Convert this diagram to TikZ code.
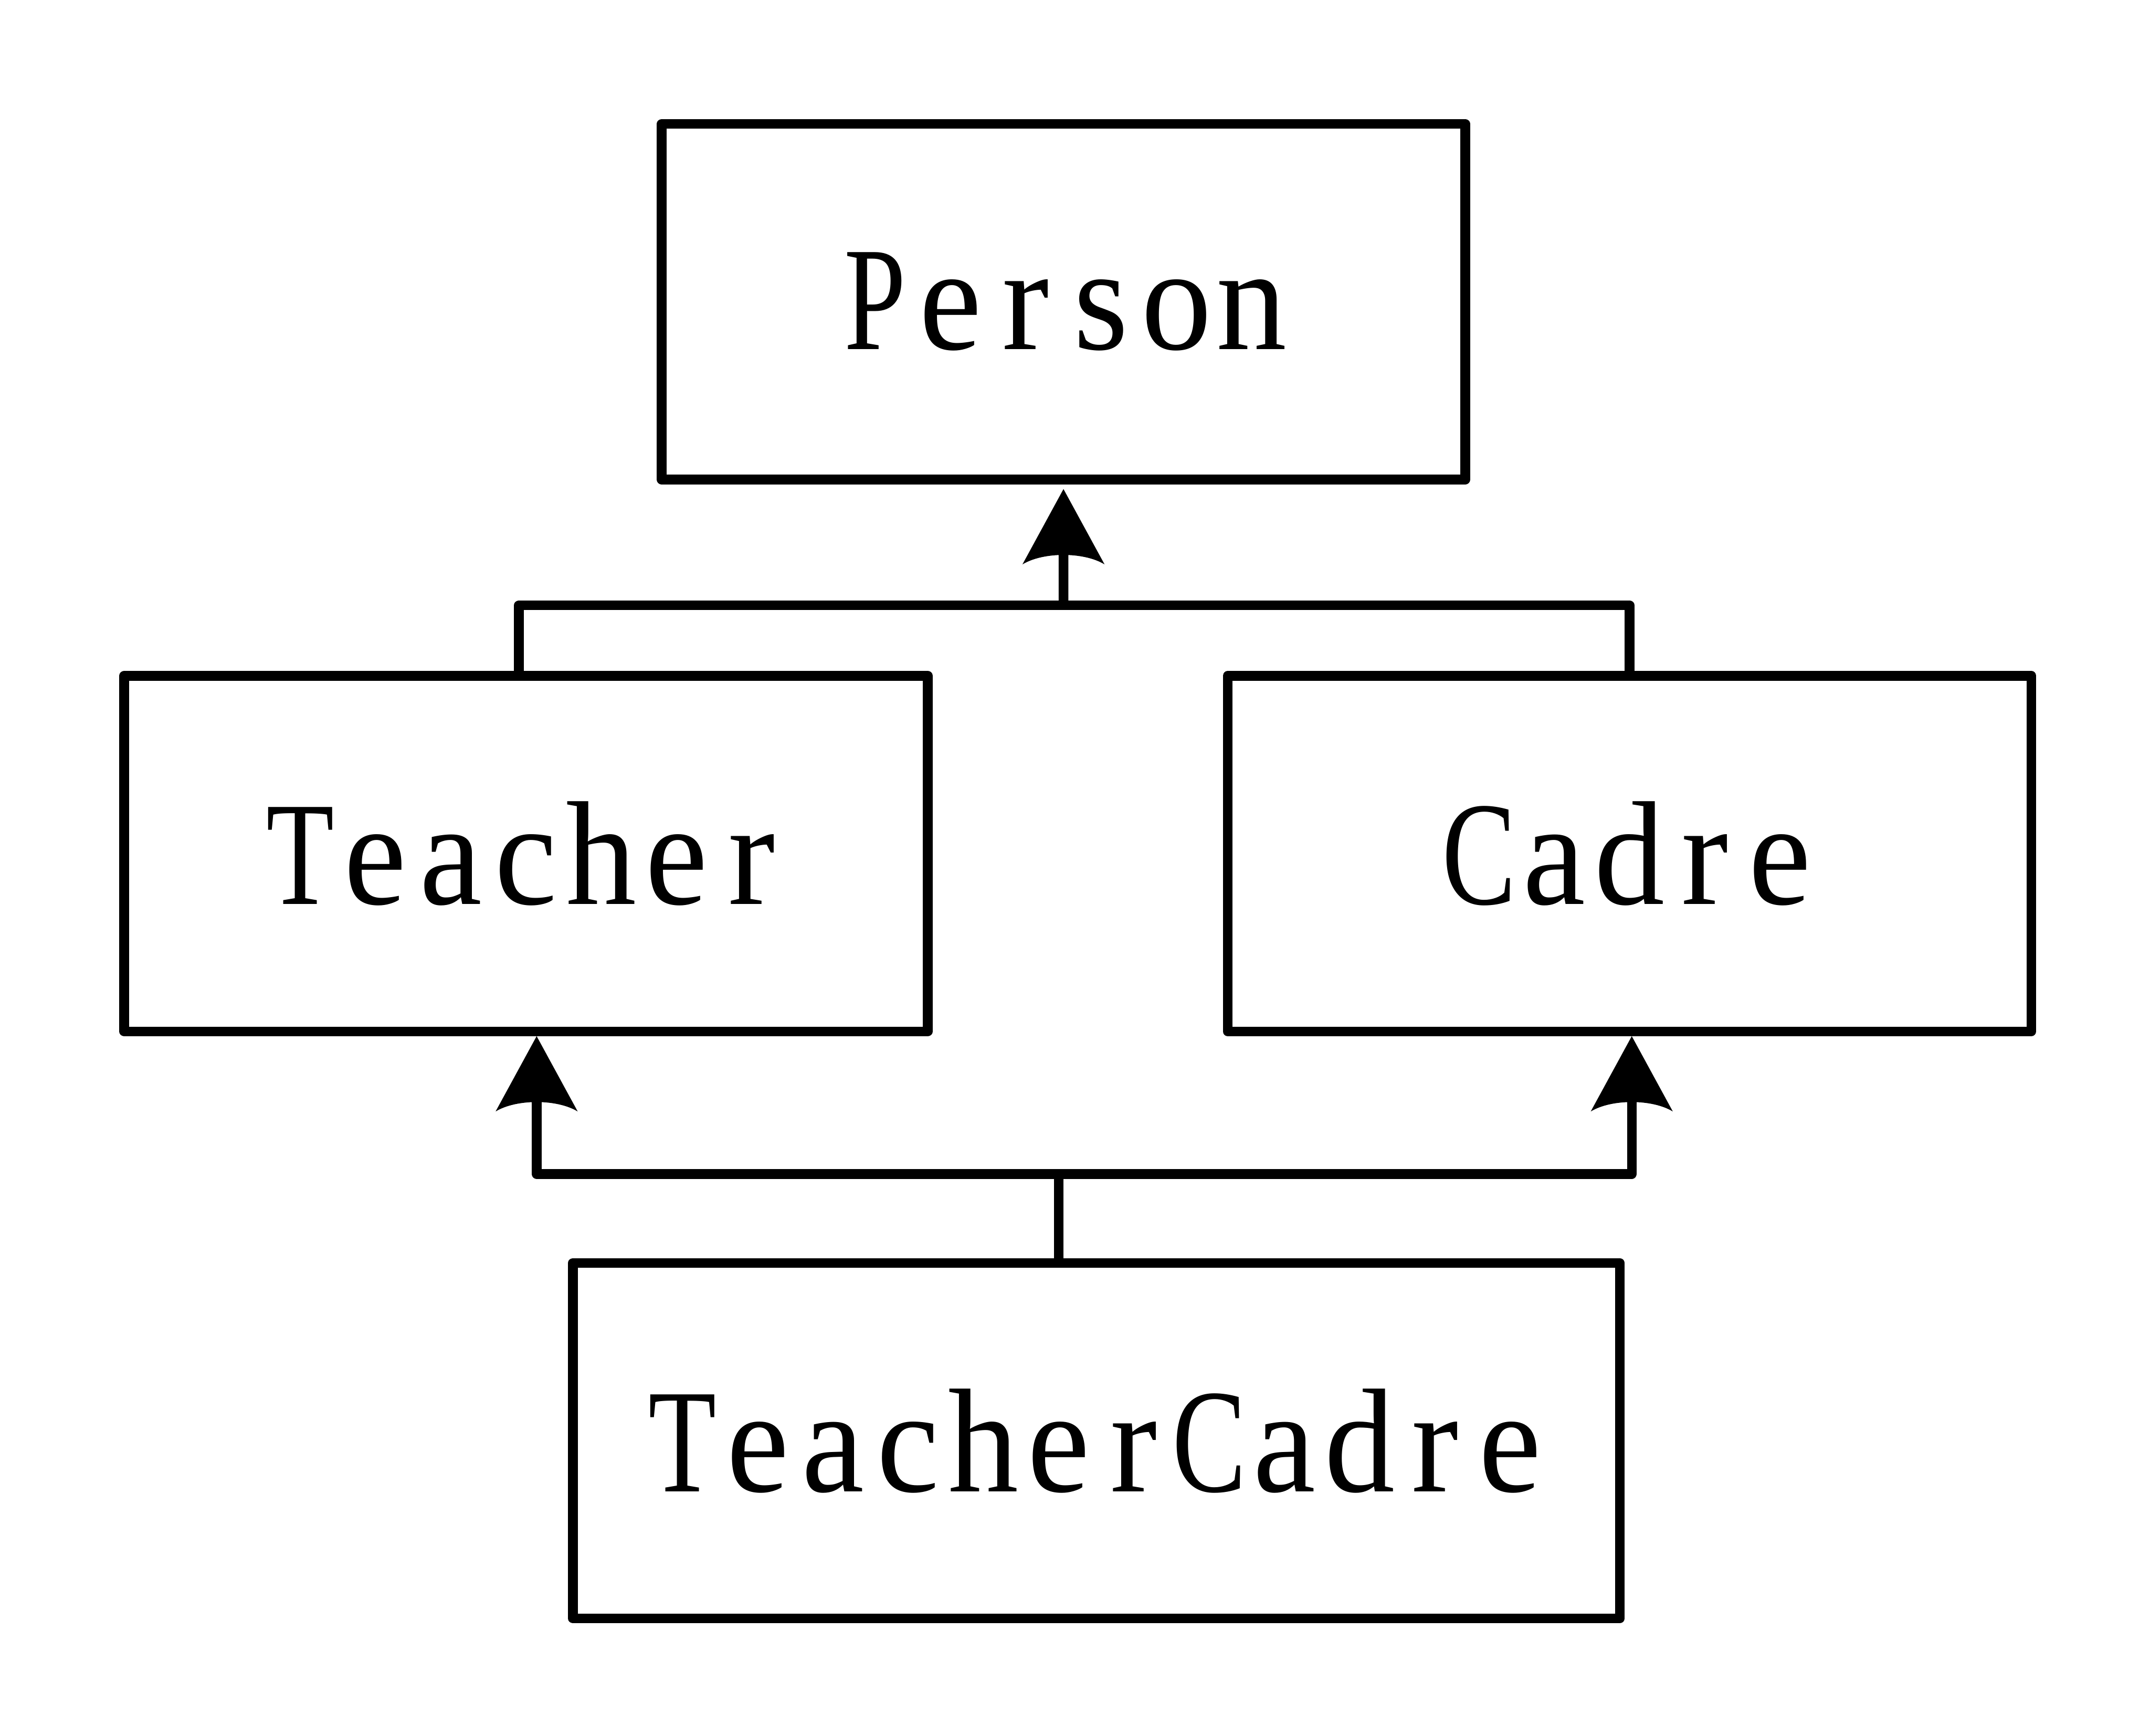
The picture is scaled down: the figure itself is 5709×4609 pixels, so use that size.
\documentclass[tikz,border=0pt]{standalone}
\usepackage{fontspec}
\setmainfont{Liberation Serif}
\usepackage{graphicx}
\usetikzlibrary{arrows.meta}
\pgfdeclarearrow{
  name = CurvedBack,
  setup code = {
    \pgfarrowssettipend{0pt}
    \pgfarrowssetbackend{-1cm}
    \pgfarrowssetlineend{-0.8cm}
    \pgfarrowshullpoint{0pt}{0pt}
    \pgfarrowshullpoint{-1cm}{0.545cm}
    \pgfarrowshullpoint{-1cm}{-0.545cm}
  },
  drawing code = {
    \pgfpathmoveto{\pgfpointorigin}
    \pgfpathlineto{\pgfpoint{-1cm}{0.545cm}}
    \pgfpathcurveto{\pgfpoint{-0.833cm}{0.27cm}}{\pgfpoint{-0.833cm}{-0.27cm}}{\pgfpoint{-1cm}{-0.545cm}}
    \pgfpathclose
    \pgfusepathqfill
  }
}
\newcommand\monochar[1]{\makebox[1cm]{\ifnum\uccode`#1=`#1\relax\scalebox{0.75}[1]{#1}\else\scalebox{0.95}[1]{#1}\fi}}
\def\monoaux#1{\ifx\relax#1\else\monochar{#1}\expandafter\monoaux\fi}
\newcommand\monotxt[1]{\monoaux#1\relax}
\begin{document}
\begin{tikzpicture}[x=0.005cm,y=-0.005cm,
  box/.style={draw, rectangle, line width=3.65pt, line join=round, minimum height=4.725cm, inner sep=0pt, font=\fontsize{56}{60}\selectfont},
  link/.style={line width=3.65pt, line join=round},
  inherit/.style={link, -CurvedBack}]
\useasboundingbox (0,0) rectangle (5709,4609);
\node[box, minimum width=10.679cm] (person) at (2823.9,801.3) {\monotxt{Person}};
\node[box, minimum width=10.679cm] (teacher) at (1396.7,2266.3) {\monotxt{Teacher}};
\node[box, minimum width=10.679cm] (cadre) at (4326.9,2266.3) {\monotxt{Cadre}};
\node[box, minimum width=13.9125cm] (tc) at (2911.3,3825.3) {\monotxt{TeacherCadre}};
\coordinate (jtop) at (2824,1607);
\coordinate (jbot) at (2811,3117);
\draw[link] ([xshift=-0.0935cm]teacher.north) |- (jtop) -| (cadre.north);
\draw[inherit, shorten >=0.062cm] (jtop) -- (person.south);
\draw[inherit] (jbot) -| ([xshift=0.1415cm]teacher.south);
\draw[inherit] (jbot) -| ([xshift=0.03cm]cadre.south);
\draw[link] (tc.north -| jbot) -- (jbot);
\end{tikzpicture}
\end{document}
